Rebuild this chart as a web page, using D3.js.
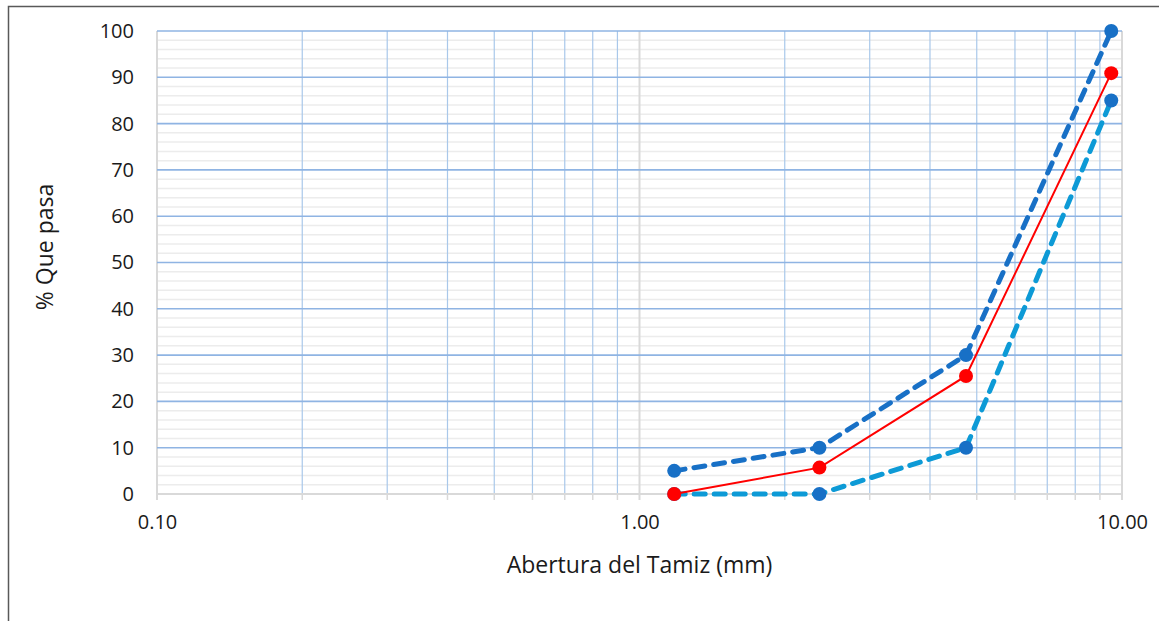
<!DOCTYPE html>
<html>
<head>
<meta charset="utf-8">
<script src="https://cdn.jsdelivr.net/npm/d3@7"></script>
<style>
  body { margin: 0; background: #fff; }
  text { font-family: "Open Sans", sans-serif; fill: #1a1a1a; }
</style>
</head>
<body>
<div id="chart-area"></div>
<script>
// sieve openings (mm)
var aberturas = [1.18, 2.36, 4.75, 9.5];
// upper limit, lower limit, sample
var limiteSuperior = [5, 10, 30, 100];
var limiteInferior = [0, 0, 10, 85];
var muestra = [0, 5.7, 25.5, 90.9];

var xTicks = [0.1, 1, 10];
var yTicks = [0, 10, 20, 30, 40, 50, 60, 70, 80, 90, 100];

var W = 1159, H = 621;
var margin = { top: 31, right: 37, bottom: 127, left: 157 };
var width = W - margin.left - margin.right;
var height = H - margin.top - margin.bottom;

var svg = d3.select("#chart-area").append("svg")
    .attr("width", W)
    .attr("height", H);

// chart frame
svg.append("rect")
    .attr("x", 8.5).attr("y", 6.5)
    .attr("width", W + 10).attr("height", H + 10)
    .attr("fill", "none")
    .attr("stroke", "#595959")
    .attr("stroke-width", 1.5);

var g = svg.append("g")
    .attr("transform", "translate(" + margin.left + "," + margin.top + ")");

var x = d3.scaleLog().domain([0.1, 10]).range([0, width]);
var y = d3.scaleLinear().domain([0, 100]).range([height, 0]);

// minor horizontal grid (every 2)
var yMinor = d3.range(0, 101, 2).filter(function (d) { return d % 10 !== 0; });
g.selectAll(".hminor").data(yMinor).enter().append("line")
    .attr("x1", 0).attr("x2", width)
    .attr("y1", function (d) { return y(d); })
    .attr("y2", function (d) { return y(d); })
    .attr("stroke", "#ececec").attr("stroke-width", 1.5);

// minor vertical grid (2..9 of each decade)
var xMinor = [];
[0.1, 1].forEach(function (b) {
    for (var k = 2; k <= 9; k++) xMinor.push(b * k);
});
g.selectAll(".vminor").data(xMinor).enter().append("line")
    .attr("x1", function (d) { return x(d); })
    .attr("x2", function (d) { return x(d); })
    .attr("y1", 0).attr("y2", height)
    .attr("stroke", "#a9c8ea").attr("stroke-width", 1.2);

// major vertical grid
g.selectAll(".vmajor").data(xTicks).enter().append("line")
    .attr("x1", function (d) { return x(d); })
    .attr("x2", function (d) { return x(d); })
    .attr("y1", 0).attr("y2", height + 6)
    .attr("stroke", "#d9d9d9").attr("stroke-width", 2);

// ticks below axis at minor positions
g.selectAll(".xtickm").data(xMinor).enter().append("line")
    .attr("x1", function (d) { return x(d); })
    .attr("x2", function (d) { return x(d); })
    .attr("y1", height).attr("y2", height + 6)
    .attr("stroke", "#d9d9d9").attr("stroke-width", 1.5);

// major horizontal grid
g.selectAll(".hmajor").data(yTicks.slice(1)).enter().append("line")
    .attr("x1", 0).attr("x2", width)
    .attr("y1", function (d) { return y(d); })
    .attr("y2", function (d) { return y(d); })
    .attr("stroke", "#8fb4e3").attr("stroke-width", 1.6);

// x axis line
g.append("line")
    .attr("x1", 0).attr("x2", width)
    .attr("y1", height).attr("y2", height)
    .attr("stroke", "#d9d9d9").attr("stroke-width", 2);

// axes labels via d3 axes
var xAxis = d3.axisBottom(x).tickValues(xTicks)
    .tickFormat(d3.format(".2f")).tickSize(0).tickPadding(21);
g.append("g").attr("transform", "translate(0," + height + ")")
    .call(xAxis)
    .call(function (s) { s.select(".domain").remove(); })
    .selectAll("text").style("font-size", "20px").attr("fill", "#1a1a1a");

var yAxis = d3.axisLeft(y).tickValues(yTicks).tickSize(0).tickPadding(23);
g.append("g").call(yAxis)
    .call(function (s) { s.select(".domain").remove(); })
    .selectAll("text").style("font-size", "20px").attr("fill", "#1a1a1a");

// axis titles
svg.append("text")
    .attr("x", margin.left + x(1)).attr("y", 573)
    .attr("text-anchor", "middle")
    .style("font-size", "23px")
    .text("Abertura del Tamiz (mm)");

svg.append("text")
    .attr("transform", "translate(53,247) rotate(-90)")
    .attr("text-anchor", "middle")
    .style("font-size", "23px")
    .text("% Que pasa");

var line = d3.line()
    .x(function (d) { return x(d[0]); })
    .y(function (d) { return y(d[1]); });

function serie(vals, lineColor, markerColor, width, dash) {
    var pts = aberturas.map(function (a, i) { return [a, vals[i]]; });
    g.append("path").datum(pts)
        .attr("d", line)
        .attr("fill", "none")
        .attr("stroke", lineColor)
        .attr("stroke-width", width)
        .attr("stroke-dasharray", dash)
        .attr("stroke-linecap", "round");
    g.selectAll(null).data(pts).enter().append("circle")
        .attr("cx", function (d) { return x(d[0]); })
        .attr("cy", function (d) { return y(d[1]); })
        .attr("r", 7)
        .attr("fill", markerColor);
}

serie(limiteInferior, "#0d9ad6", "#1870c6", 5, "11,9");
serie(limiteSuperior, "#1870c6", "#1870c6", 5, "11,9");
serie(muestra, "#ff0000", "#ff0000", 2, null);
</script>
</body>
</html>
